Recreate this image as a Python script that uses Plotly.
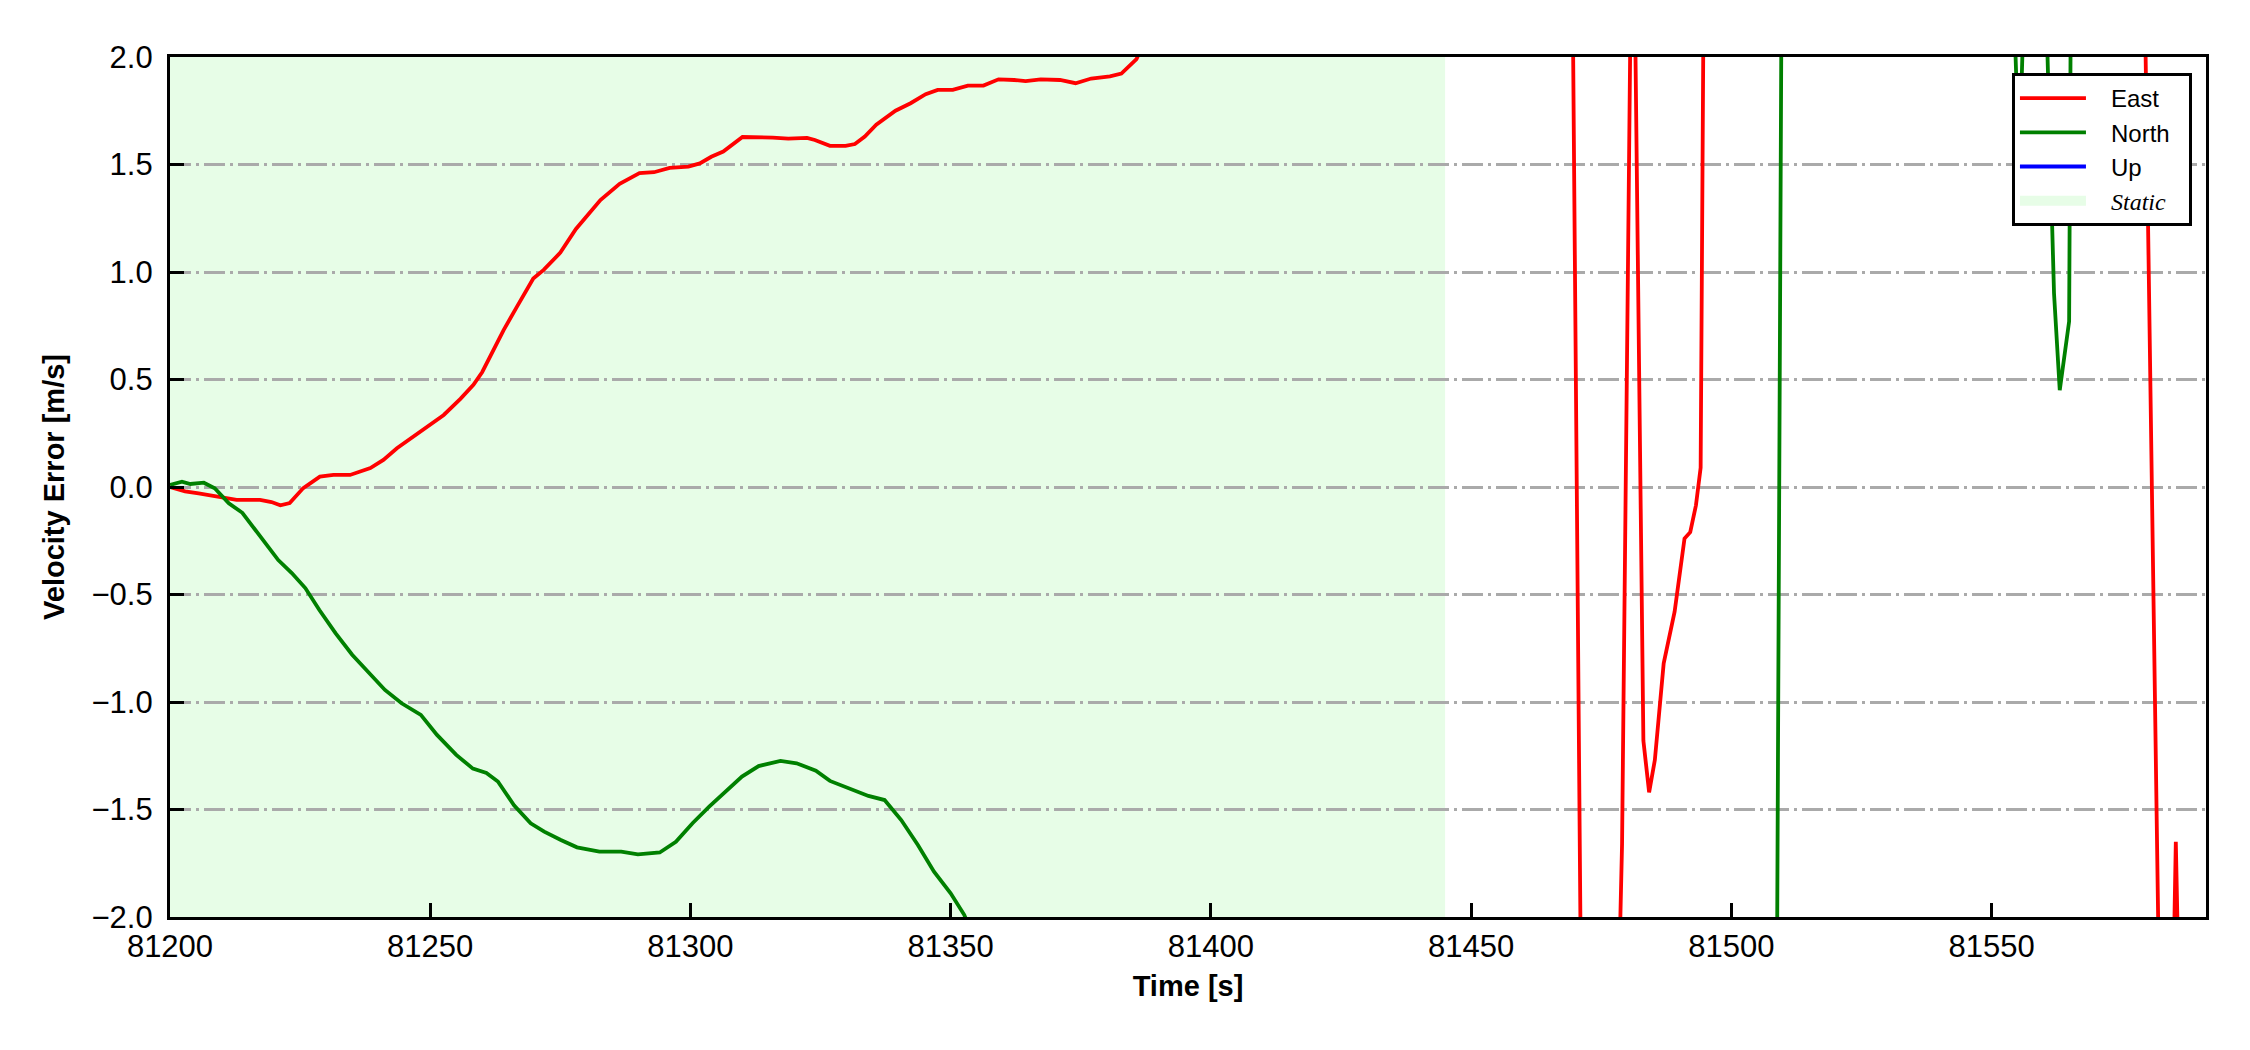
import plotly.graph_objects as go

# Время, с и ошибка скорости, м/с
east_t = [
    81200.0, 81202.9, 81205.5, 81207.7, 81210.5, 81212.8, 81217.3, 81219.5, 81221.2, 81223.0,
    81225.6, 81228.8, 81231.4, 81234.6, 81238.5, 81241.0, 81243.6, 81248.7, 81252.6, 81255.8,
    81258.3, 81260.0, 81262.2, 81264.1, 81266.7, 81269.8, 81271.8, 81275.0, 81278.0, 81282.7,
    81286.4, 81290.2, 81293.0, 81296.0, 81299.6, 81301.8, 81304.0, 81306.3, 81310.0, 81312.9,
    81315.8, 81318.8, 81322.4, 81323.9, 81326.8, 81329.8, 81331.6, 81333.5, 81335.7, 81339.4,
    81342.3, 81345.2, 81347.5, 81350.4, 81353.3, 81356.3, 81359.2, 81362.2, 81364.4, 81367.3,
    81371.0, 81374.0, 81377.0, 81380.6, 81382.8, 81385.7, 81388.0, 81400.0, 81420.0, 81440.0,
    81460.0, 81469.4, 81471.2, 81474.5, 81478.2, 81479.0, 81480.8, 81481.3, 81483.1, 81484.2,
    81485.3, 81487.0, 81489.1, 81491.0, 81492.1, 81493.2, 81494.1, 81494.8, 81510.0, 81530.0,
    81550.0, 81570.0, 81579.3, 81582.3, 81583.6, 81584.7, 81585.4, 81586.2, 81589.0, 81591.2,
]
east_v = [
    0.00, -0.02, -0.03, -0.04, -0.05, -0.06, -0.06, -0.07, -0.085, -0.075,
    -0.005, 0.048, 0.056, 0.056, 0.088, 0.126, 0.18, 0.265, 0.335, 0.41,
    0.475, 0.535, 0.645, 0.73, 0.84, 0.97, 1.01, 1.09, 1.20, 1.335,
    1.41, 1.46, 1.464, 1.484, 1.49, 1.505, 1.536, 1.56, 1.628, 1.628,
    1.625, 1.62, 1.624, 1.614, 1.587, 1.587, 1.595, 1.63, 1.685, 1.75,
    1.785, 1.827, 1.847, 1.847, 1.867, 1.867, 1.896, 1.893, 1.888, 1.896,
    1.893, 1.878, 1.90, 1.91, 1.923, 1.99, 2.12, 2.6, 3.2, 3.6,
    3.3, 2.6, -2.6, -3.1, -2.5, -1.66, 2.6, 2.6, -1.18, -1.42,
    -1.27, -0.82, -0.58, -0.24, -0.21, -0.085, 0.09, 2.8, 4.2, 5.0,
    4.4, 3.4, 2.5, -2.5, -3.0, -2.6, -1.65, -2.6, -3.2, -3.4,
]

north_t = [
    81200.0, 81202.3, 81203.9, 81206.5, 81208.6, 81211.3, 81213.9, 81217.1, 81220.8, 81223.4,
    81226.0, 81228.7, 81231.8, 81235.0, 81238.7, 81241.3, 81244.5, 81248.2, 81251.3, 81255.0,
    81258.2, 81260.8, 81263.0, 81266.1, 81269.3, 81271.9, 81275.1, 81278.2, 81282.5, 81286.7,
    81289.9, 81294.1, 81297.2, 81300.4, 81303.6, 81306.7, 81309.9, 81313.1, 81317.3, 81320.4,
    81324.1, 81326.8, 81331.0, 81334.2, 81337.3, 81340.5, 81343.7, 81346.8, 81350.0, 81352.6,
    81354.0, 81380.0, 81420.0, 81460.0, 81490.0, 81508.7, 81509.7, 81525.0, 81545.0, 81554.2,
    81555.3, 81556.4, 81558.0, 81560.3, 81561.6, 81562.0, 81563.1, 81564.9, 81565.3, 81575.0,
    81591.2,
]
north_v = [
    0.01, 0.025, 0.014, 0.02, -0.006, -0.076, -0.12, -0.223, -0.34, -0.40,
    -0.47, -0.572, -0.68, -0.78, -0.88, -0.944, -1.006, -1.06, -1.153, -1.246,
    -1.31, -1.33, -1.37, -1.48, -1.564, -1.603, -1.642, -1.676, -1.696, -1.696,
    -1.709, -1.70, -1.65, -1.564, -1.487, -1.417, -1.347, -1.298, -1.274, -1.285,
    -1.32, -1.367, -1.406, -1.437, -1.456, -1.549, -1.665, -1.789, -1.89, -1.99,
    -2.07, -2.8, -3.4, -3.6, -3.1, -2.6, 2.6, 3.4, 3.0, 2.3,
    1.5, 2.4, 2.8, 2.4, 1.25, 0.90, 0.45, 0.77, 2.6, 3.5,
    3.2,
]

static_span = [81200.0, 81445.0]
x_range = [81200.0, 81591.2]
y_range = [-2.0, 2.0]

FONT = "Liberation Sans"
STATIC_COLOR = "#e7fde7"
NB = "\u00a0" * 3  # отступ текста от образца в легенде
NB_END = "\u00a0" * 2

fig = go.Figure()

fig.add_trace(go.Scatter(x=east_t, y=east_v, mode="lines", name=NB + "East" + NB_END,
                         line=dict(color="#ff0000", width=3.8)))
fig.add_trace(go.Scatter(x=north_t, y=north_v, mode="lines", name=NB + "North" + NB_END,
                         line=dict(color="#008000", width=3.8)))
# Up не попадает в видимый диапазон - только запись в легенде
fig.add_trace(go.Scatter(x=[None], y=[None], mode="lines", name=NB + "Up" + NB_END,
                         line=dict(color="#0000ff", width=3.8)))
# образец для статического участка - толстая светлая полоса
fig.add_trace(go.Scatter(x=[None], y=[None], mode="lines",
                         line=dict(width=19, color=STATIC_COLOR),
                         name=NB + "<span style='font-family:Liberation Serif'><i>Static</i></span>" + NB_END))

# Статический участок
fig.add_vrect(x0=static_span[0], x1=static_span[1], fillcolor=STATIC_COLOR,
              line_width=0, layer="below")

# страница сдвигает рисунок на 8 px (отступ body) - компенсируем полями
fig.update_layout(
    width=2250, height=1050,
    margin=dict(l=162, r=52, t=49, b=141),
    paper_bgcolor="white", plot_bgcolor="white",
    font=dict(family=FONT, size=31, color="black"),
    showlegend=True,
    legend=dict(
        x=0.9931, xanchor="right", y=0.9814, yanchor="top",
        bgcolor="white", bordercolor="black", borderwidth=3,
        font=dict(family=FONT, size=24, color="black"),
        tracegroupgap=0, itemwidth=66,
    ),
)

fig.update_xaxes(
    range=x_range, tick0=81200, dtick=50, tickformat="d",
    ticks="inside", ticklen=14, tickwidth=3, tickcolor="black",
    showline=True, linewidth=3.3, linecolor="black", mirror=True,
    showgrid=False, zeroline=False,
    tickfont=dict(family=FONT, size=31), ticklabelstandoff=0,
    title=dict(text="<b>Time [s]</b>", font=dict(family=FONT, size=29), standoff=13),
)
fig.update_yaxes(
    range=y_range, dtick=0.5, tickformat=".1f",
    ticks="inside", ticklen=14, tickwidth=3, tickcolor="black",
    showline=True, linewidth=3.3, linecolor="black", mirror=True,
    showgrid=True, gridcolor="#aaaaaa", gridwidth=2.5, griddash="21px,5px,3px,5px",
    zeroline=False,
    tickfont=dict(family=FONT, size=31), ticklabelstandoff=8,
    title=dict(text="<b>Velocity Error [m/s]</b>", font=dict(family=FONT, size=29), standoff=19),
)

fig.write_html("out.html")
